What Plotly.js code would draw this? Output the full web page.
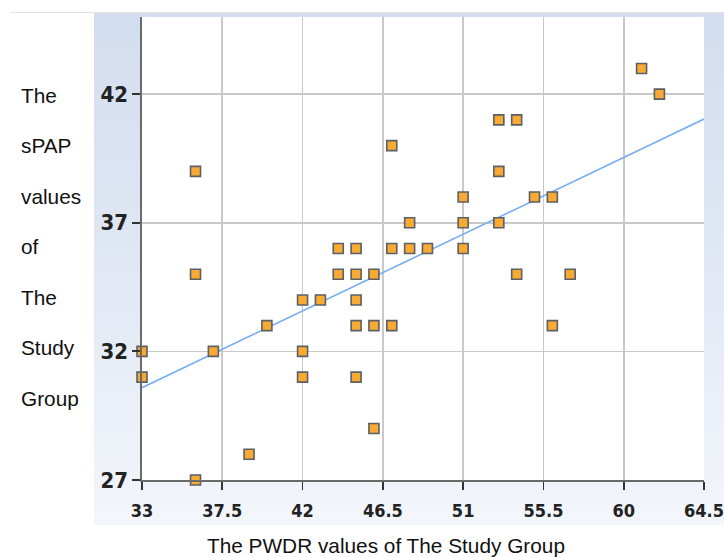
<!DOCTYPE html>
<html>
<head>
<meta charset="utf-8">
<script src="https://cdn.plot.ly/plotly-3.0.1.min.js"></script>
<style>
  html, body { margin: 0; padding: 0; background: #ffffff; }
  #wrap { position: relative; width: 724px; height: 557px; overflow: hidden; }
  #topline { position: absolute; left: 10px; top: 12px; width: 714px; height: 1px; background: #e4e4e4; }
  #panel { position: absolute; left: 94px; top: 13px; width: 630px; height: 512px;
           background: linear-gradient(to bottom, #d2ddef 0%, #e1e8f4 50%, #f3f6fb 100%); }
  #chart { position: absolute; left: 0; top: 0; width: 724px; height: 557px; }
</style>
</head>
<body>
<div id="wrap">
  <div id="topline"></div>
  <div id="panel"></div>
  <div id="chart"></div>
</div>
<script>
// PWDR (x) and sPAP (y) values of the study group
const pwdr = [33, 33, 36, 36, 36, 37, 39, 40, 42, 42, 42, 43, 44, 44, 45, 45, 45, 45, 45, 46, 46, 46,
              47, 47, 47, 48, 48, 49, 51, 51, 51, 53, 54, 53, 53, 54, 55, 56, 56, 57, 61, 62];
const spap = [32, 31, 39, 35, 27, 32, 28, 33, 34, 32, 31, 34, 36, 35, 36, 35, 34, 33, 31, 35, 33, 29,
              40, 36, 33, 37, 36, 36, 38, 37, 36, 41, 41, 39, 37, 35, 38, 38, 33, 35, 43, 42];
const xTicks = [33, 37.5, 42, 46.5, 51, 55.5, 60, 64.5];
const xTickText = ["33", "37.5", "42", "46.5", "51", "55.5", "60", "64.5"];
const yTicks = [27, 32, 37, 42];
const yTitleWords = ["The", "sPAP", "values", "of", "The", "Study", "Group"];
const xTitle = "The PWDR values of The Study Group";

// least-squares fit line across the x range
const n = pwdr.length;
const mx = pwdr.reduce((a, b) => a + b, 0) / n;
const my = spap.reduce((a, b) => a + b, 0) / n;
let sxy = 0, sxx = 0;
for (let i = 0; i < n; i++) { sxy += (pwdr[i] - mx) * (spap[i] - my); sxx += (pwdr[i] - mx) ** 2; }
const slope = sxy / sxx, icpt = my - slope * mx;
const fitX = [xTicks[0], xTicks[xTicks.length - 1]];
const fitY = fitX.map(v => icpt + slope * v);

const traces = [
  { x: fitX, y: fitY, type: 'scatter', mode: 'lines', hoverinfo: 'skip',
    line: { color: '#76aef2', width: 1.6 }, cliponaxis: true },
  { x: pwdr, y: spap, type: 'scatter', mode: 'markers', cliponaxis: false,
    marker: { symbol: 'square', size: 10, color: '#f8aa32', line: { color: '#5b5f66', width: 1.6 } } }
];

const titleFont = { family: 'Liberation Sans, Arial, sans-serif', size: 20.8, color: '#111111' };
const annotations = yTitleWords.map((w, i) => ({
  text: w, xref: 'paper', yref: 'paper', x: -0.219, y: 0.8315 - i * 0.1091,
  xanchor: 'left', yanchor: 'middle', showarrow: false, font: titleFont
}));
annotations.push({
  text: xTitle, xref: 'paper', yref: 'paper', x: (386 - 142) / 562, y: -0.1404,
  xanchor: 'center', yanchor: 'middle', showarrow: false, font: titleFont
});

const layout = {
  width: 724, height: 557,
  margin: { l: 142, r: 20, t: 17, b: 77 },
  paper_bgcolor: 'rgba(0,0,0,0)',
  plot_bgcolor: '#ffffff',
  showlegend: false,
  xaxis: {
    range: [33, 64.5], tickvals: xTicks, ticktext: xTickText,
    showgrid: true, gridcolor: '#c9c9c9', gridwidth: 1.6,
    zeroline: false, showline: true, linecolor: '#6a6a6a', linewidth: 1.6,
    ticks: 'outside', ticklen: 8, tickwidth: 1.8, tickcolor: '#333333',
    ticklabelstandoff: 6,
    tickfont: { family: 'DejaVu Sans Condensed, DejaVu Sans, sans-serif', size: 18, weight: 'bold', color: '#222222' }
  },
  yaxis: {
    range: [27, 45.0], tickvals: yTicks,
    showgrid: true, gridcolor: '#c9c9c9', gridwidth: 1.6,
    zeroline: false, showline: true, linecolor: '#6a6a6a', linewidth: 1.6,
    ticks: 'outside', ticklen: 8, tickwidth: 1.8, tickcolor: '#333333',
    tickfont: { family: 'DejaVu Sans Condensed, DejaVu Sans, sans-serif', size: 22, weight: 'bold', color: '#222222' }
  },
  annotations: annotations
};

Plotly.newPlot('chart', traces, layout, { staticPlot: true, displayModeBar: false });
</script>
</body>
</html>
